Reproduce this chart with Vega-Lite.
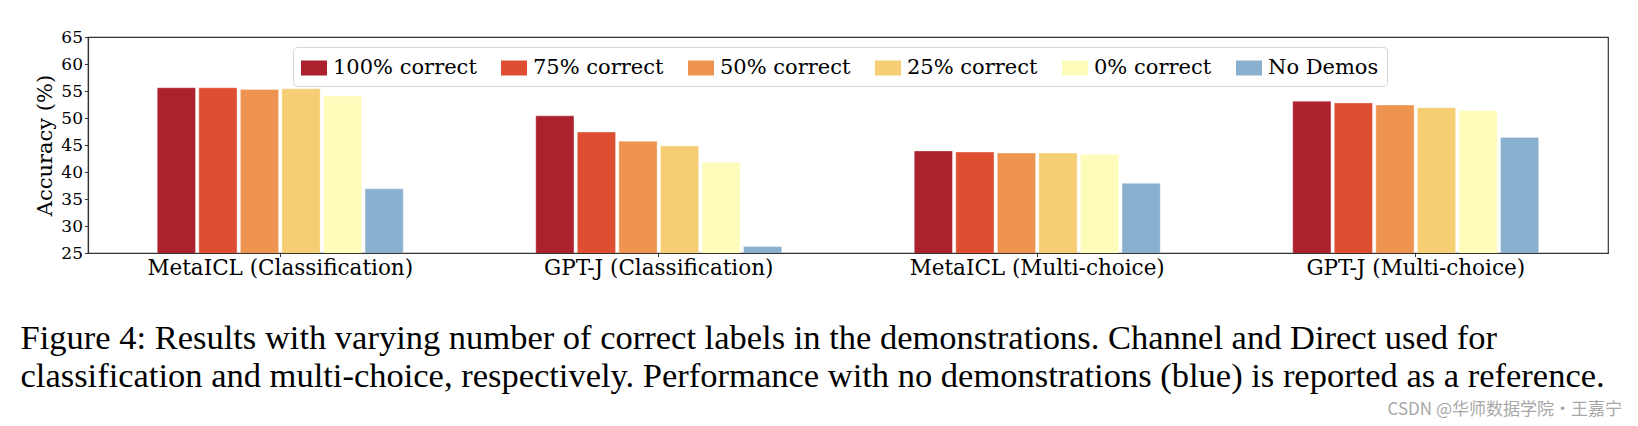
{
  "$schema": "https://vega.github.io/schema/vega-lite/v6.json",
  "width": 1520,
  "height": 216,
  "autosize": {"type": "none"},
  "padding": {"left": 88, "top": 37, "right": 30, "bottom": 173},
  "background": "white",
  "config": {
    "font": "DejaVu Serif",
    "view": {"stroke": "#333333", "strokeWidth": 1.2}
  },
  "title": {
    "text": "CSDN @华师数据学院·王嘉宁",
    "orient": "bottom",
    "anchor": "end",
    "font": "Noto Sans CJK SC",
    "fontSize": 17,
    "fontWeight": "normal",
    "color": "#a8a8a8",
    "offset": 9,
    "dx": 14
  },
  "data": {
    "values": [
      {"group": "MetaICL (Classification)", "setting": "100% correct", "accuracy": 55.6},
      {"group": "MetaICL (Classification)", "setting": "75% correct", "accuracy": 55.6},
      {"group": "MetaICL (Classification)", "setting": "50% correct", "accuracy": 55.3},
      {"group": "MetaICL (Classification)", "setting": "25% correct", "accuracy": 55.4},
      {"group": "MetaICL (Classification)", "setting": "0% correct", "accuracy": 54.1},
      {"group": "MetaICL (Classification)", "setting": "No Demos", "accuracy": 36.9},
      {"group": "GPT-J (Classification)", "setting": "100% correct", "accuracy": 50.4},
      {"group": "GPT-J (Classification)", "setting": "75% correct", "accuracy": 47.4},
      {"group": "GPT-J (Classification)", "setting": "50% correct", "accuracy": 45.7},
      {"group": "GPT-J (Classification)", "setting": "25% correct", "accuracy": 44.8},
      {"group": "GPT-J (Classification)", "setting": "0% correct", "accuracy": 41.8},
      {"group": "GPT-J (Classification)", "setting": "No Demos", "accuracy": 26.2},
      {"group": "MetaICL (Multi-choice)", "setting": "100% correct", "accuracy": 43.9},
      {"group": "MetaICL (Multi-choice)", "setting": "75% correct", "accuracy": 43.7},
      {"group": "MetaICL (Multi-choice)", "setting": "50% correct", "accuracy": 43.5},
      {"group": "MetaICL (Multi-choice)", "setting": "25% correct", "accuracy": 43.5},
      {"group": "MetaICL (Multi-choice)", "setting": "0% correct", "accuracy": 43.3},
      {"group": "MetaICL (Multi-choice)", "setting": "No Demos", "accuracy": 37.9},
      {"group": "GPT-J (Multi-choice)", "setting": "100% correct", "accuracy": 53.1},
      {"group": "GPT-J (Multi-choice)", "setting": "75% correct", "accuracy": 52.8},
      {"group": "GPT-J (Multi-choice)", "setting": "50% correct", "accuracy": 52.4},
      {"group": "GPT-J (Multi-choice)", "setting": "25% correct", "accuracy": 51.9},
      {"group": "GPT-J (Multi-choice)", "setting": "0% correct", "accuracy": 51.4},
      {"group": "GPT-J (Multi-choice)", "setting": "No Demos", "accuracy": 46.4}
    ]
  },
  "mark": {"type": "bar", "clip": true, "stroke": "white", "strokeOpacity": 0.35, "strokeWidth": 1},
  "encoding": {
    "x": {
      "field": "group",
      "type": "nominal",
      "sort": ["MetaICL (Classification)", "GPT-J (Classification)", "MetaICL (Multi-choice)", "GPT-J (Multi-choice)"],
      "scale": {"paddingInner": 0.35, "paddingOuter": 0.183},
      "axis": {
        "title": [
          "Figure 4:  Results with varying number of correct labels in the demonstrations.  Channel and Direct used for",
          "classification and multi-choice, respectively. Performance with no demonstrations (blue) is reported as a reference."
        ],
        "titleFont": "Liberation Serif",
        "titleFontSize": 34.5,
        "titleFontWeight": "normal",
        "titleColor": "black",
        "titleAnchor": "start",
        "titleAlign": "left",
        "titleBaseline": "alphabetic",
        "titleX": -68,
        "titleY": 95,
        "titleLineHeight": 38.5,
        "titleLimit": 0,
        "labelAngle": 0,
        "labelFontSize": 21.5,
        "labelLimit": 0,
        "labelColor": "black",
        "labelPadding": 1,
        "tickSize": 3.5,
        "tickColor": "#333333",
        "domainColor": "#333333",
        "domainWidth": 1.2
      }
    },
    "xOffset": {
      "field": "setting",
      "type": "nominal",
      "sort": ["100% correct", "75% correct", "50% correct", "25% correct", "0% correct", "No Demos"],
      "scale": {"paddingInner": 0.08, "paddingOuter": 0}
    },
    "y": {
      "field": "accuracy",
      "type": "quantitative",
      "scale": {"domain": [25, 65], "nice": false, "zero": false},
      "axis": {
        "title": "Accuracy (%)",
        "titleFontSize": 21,
        "titleFontWeight": "normal",
        "titleColor": "black",
        "titlePadding": 5,
        "values": [25, 30, 35, 40, 45, 50, 55, 60, 65],
        "labelFontSize": 17,
        "labelColor": "black",
        "labelPadding": 2,
        "tickSize": 3.5,
        "tickColor": "#333333",
        "domainColor": "#333333",
        "domainWidth": 1.2,
        "grid": false
      }
    },
    "color": {
      "field": "setting",
      "type": "nominal",
      "sort": ["100% correct", "75% correct", "50% correct", "25% correct", "0% correct", "No Demos"],
      "scale": {
        "domain": ["100% correct", "75% correct", "50% correct", "25% correct", "0% correct", "No Demos"],
        "range": ["#ab212d", "#dd4e33", "#ee9450", "#f5cd72", "#fefcbb", "#8ab0d0"]
      },
      "legend": {
        "title": null,
        "orient": "none",
        "direction": "horizontal",
        "legendX": 205,
        "legendY": 10,
        "symbolType": "M-1,-0.577H1V0.577H-1Z",
        "symbolSize": 676,
        "symbolStrokeWidth": 0,
        "symbolOpacity": 1,
        "labelFontSize": 21,
        "labelColor": "black",
        "labelOffset": 6,
        "columnPadding": 24,
        "padding": 8,
        "fillColor": "white",
        "strokeColor": "#d6d6d6",
        "cornerRadius": 4
      }
    }
  }
}
